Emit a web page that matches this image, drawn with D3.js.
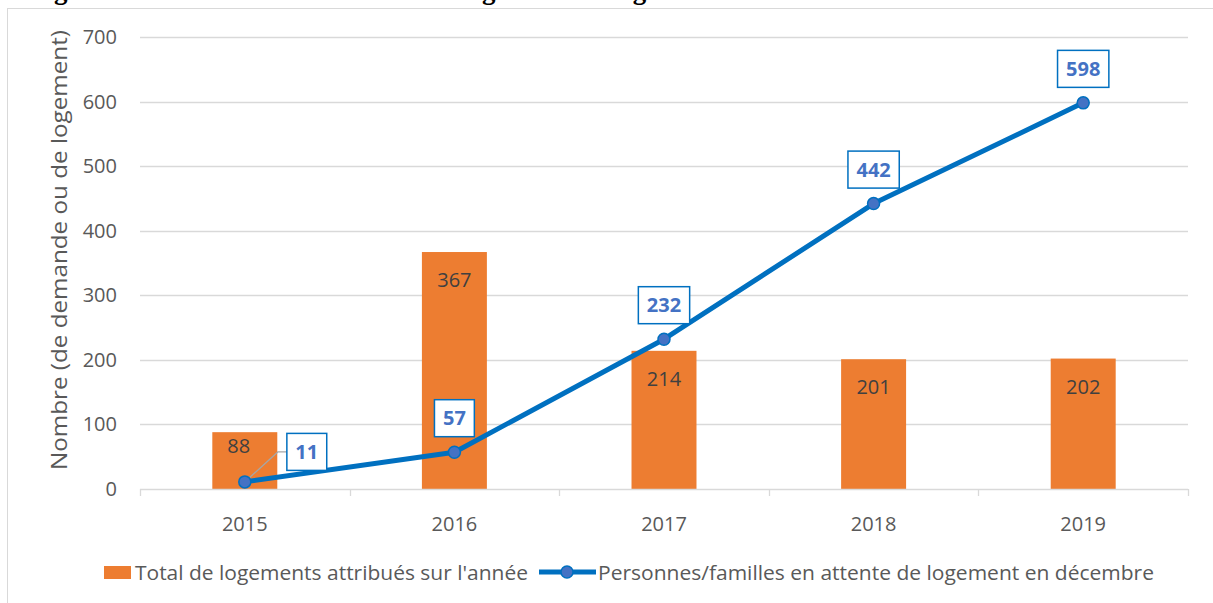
<!DOCTYPE html>
<html>
<head>
<meta charset="utf-8">
<script src="https://cdn.jsdelivr.net/npm/d3@7"></script>
<style>
  body { margin: 0; background: #fff; }
  svg { display: block; }
  text { font-family: 'Open Sans', sans-serif; }
  text.title { font-family: 'Liberation Serif', 'DejaVu Serif', serif; }
</style>
</head>
<body>
<svg id="chart" width="1213" height="603"></svg>
<script>
const years = ['2015', '2016', '2017', '2018', '2019'];
const logementsAttribues = [88, 367, 214, 201, 202];
const enAttente = [11, 57, 232, 442, 598];
const yTicks = [0, 100, 200, 300, 400, 500, 600, 700];

const barName = 'Total de logements attribués sur l\'année';
const lineName = 'Personnes/familles en attente de logement en décembre';
const yTitle = 'Nombre (de demande ou de logement)';
const title = 'Figure 11 : Nombre d\'attributions de logements d\'urgence et de demandes en attente au fil des années';

const orange = '#ED7D31';
const blue = '#0070C0';
const markerBlue = '#4472C4';
const grid = '#D9D9D9';
const textGrey = '#595959';

const svg = d3.select('#chart');

// title cut off at the top of the picture, only its lowest part shows
svg.append('text')
  .attr('class', 'title')
  .attr('x', 30)
  .attr('y', -1)
  .attr('font-weight', 'bold')
  .attr('font-size', 27)
  .text(title);

// chart frame
svg.append('rect')
  .attr('x', 7.5)
  .attr('y', 8.5)
  .attr('width', 1220)
  .attr('height', 620)
  .attr('fill', '#fff')
  .attr('stroke', grid);

const x = d3.scaleBand()
  .domain(years)
  .range([140, 1188])
  .paddingInner(0.69)
  .paddingOuter(0.345);

const y = d3.scaleLinear()
  .domain([0, 700])
  .range([489, 37]);

// gridlines
svg.append('g')
  .selectAll('line')
  .data(yTicks.filter((d) => d > 0))
  .enter()
  .append('line')
  .attr('x1', 140)
  .attr('x2', 1188)
  .attr('y1', (d) => Math.round(y(d)) + 0.5)
  .attr('y2', (d) => Math.round(y(d)) + 0.5)
  .attr('stroke', grid)
  .attr('stroke-width', 1.3);

// y tick labels
svg.append('g')
  .selectAll('text')
  .data(yTicks)
  .enter()
  .append('text')
  .attr('x', 117)
  .attr('y', (d) => y(d) + 7)
  .attr('text-anchor', 'end')
  .attr('font-size', 20)
  .attr('fill', textGrey)
  .text((d) => d);

// y axis title
svg.append('text')
  .attr('transform', 'translate(67,250) rotate(-90)')
  .attr('text-anchor', 'middle')
  .attr('font-size', 21)
  .attr('fill', textGrey)
  .attr('textLength', 440)
  .attr('lengthAdjust', 'spacingAndGlyphs')
  .text(yTitle);

// bars
svg.append('g')
  .selectAll('rect')
  .data(logementsAttribues)
  .enter()
  .append('rect')
  .attr('x', (d, i) => x(years[i]))
  .attr('y', (d) => y(d))
  .attr('width', x.bandwidth())
  .attr('height', (d) => y(0) - y(d))
  .attr('fill', orange);

// x axis line and ticks
const step = x.step();
svg.append('line')
  .attr('x1', 140)
  .attr('x2', 1188)
  .attr('y1', y(0) + 0.5)
  .attr('y2', y(0) + 0.5)
  .attr('stroke', grid)
  .attr('stroke-width', 1.3);

svg.append('g')
  .selectAll('line')
  .data(d3.range(years.length + 1))
  .enter()
  .append('line')
  .attr('x1', (i) => Math.round(140 + i * step) + 0.5)
  .attr('x2', (i) => Math.round(140 + i * step) + 0.5)
  .attr('y1', y(0))
  .attr('y2', y(0) + 7)
  .attr('stroke', grid)
  .attr('stroke-width', 1.3);

svg.append('g')
  .selectAll('text')
  .data(years)
  .enter()
  .append('text')
  .attr('x', (d) => x(d) + x.bandwidth() / 2)
  .attr('y', 531)
  .attr('text-anchor', 'middle')
  .attr('font-size', 20)
  .attr('fill', textGrey)
  .text((d) => d);

// bar labels (first one sits closer to the top of its short bar)
svg.append('g')
  .selectAll('text')
  .data(logementsAttribues)
  .enter()
  .append('text')
  .attr('x', (d, i) => x(years[i]) + x.bandwidth() / 2 - (i === 0 ? 6 : 0))
  .attr('y', (d, i) => y(d) + (i === 0 ? 21 : 35))
  .attr('text-anchor', 'middle')
  .attr('font-size', 20)
  .attr('fill', '#404040')
  .text((d) => d);

// line series
const cx = (i) => x(years[i]) + x.bandwidth() / 2;
const line = d3.line()
  .x((d, i) => cx(i))
  .y((d) => y(d));

svg.append('path')
  .datum(enAttente)
  .attr('d', line)
  .attr('fill', 'none')
  .attr('stroke', blue)
  .attr('stroke-width', 5)
  .attr('stroke-linejoin', 'round');

// leader line for the first label
const p0x = cx(0);
const p0y = y(enAttente[0]);
svg.append('polyline')
  .attr('points', `${p0x},${p0y} ${p0x + 33},${p0y - 30} ${p0x + 43},${p0y - 30}`)
  .attr('fill', 'none')
  .attr('stroke', '#A6A6A6')
  .attr('stroke-width', 1.3);

svg.append('g')
  .selectAll('circle')
  .data(enAttente)
  .enter()
  .append('circle')
  .attr('cx', (d, i) => cx(i))
  .attr('cy', (d) => y(d))
  .attr('r', 6)
  .attr('fill', markerBlue)
  .attr('stroke', blue)
  .attr('stroke-width', 1.5);

// line labels in boxes
const labels = svg.append('g')
  .selectAll('g')
  .data(enAttente)
  .enter()
  .append('g')
  .attr('transform', (d, i) => i === 0
    ? `translate(${cx(i) + 62},${y(d) - 30})`
    : `translate(${cx(i)},${y(d) - 34})`);

labels.append('text')
  .attr('text-anchor', 'middle')
  .attr('y', 7)
  .attr('font-size', 20)
  .attr('font-weight', 'bold')
  .attr('fill', markerBlue)
  .text((d) => d);

labels.each(function() {
  const g = d3.select(this);
  const bb = g.select('text').node().getBBox();
  const w = bb.width + 17;
  const h = 37;
  g.insert('rect', 'text')
    .attr('x', -w / 2)
    .attr('y', -h / 2)
    .attr('width', w)
    .attr('height', h)
    .attr('fill', '#fff')
    .attr('stroke', blue)
    .attr('stroke-width', 1.5);
});

// legend
const legend = svg.append('g');
legend.append('rect')
  .attr('x', 104)
  .attr('y', 566)
  .attr('width', 27)
  .attr('height', 13)
  .attr('fill', orange);
legend.append('text')
  .attr('x', 135)
  .attr('y', 580)
  .attr('font-size', 20)
  .attr('fill', textGrey)
  .attr('textLength', 393)
  .attr('lengthAdjust', 'spacingAndGlyphs')
  .text(barName);
legend.append('line')
  .attr('x1', 539)
  .attr('x2', 596)
  .attr('y1', 572)
  .attr('y2', 572)
  .attr('stroke', blue)
  .attr('stroke-width', 5);
legend.append('circle')
  .attr('cx', 567)
  .attr('cy', 572)
  .attr('r', 6)
  .attr('fill', markerBlue)
  .attr('stroke', blue)
  .attr('stroke-width', 1.5);
legend.append('text')
  .attr('x', 598)
  .attr('y', 580)
  .attr('font-size', 20)
  .attr('fill', textGrey)
  .attr('textLength', 556)
  .attr('lengthAdjust', 'spacingAndGlyphs')
  .text(lineName);
</script>
</body>
</html>
